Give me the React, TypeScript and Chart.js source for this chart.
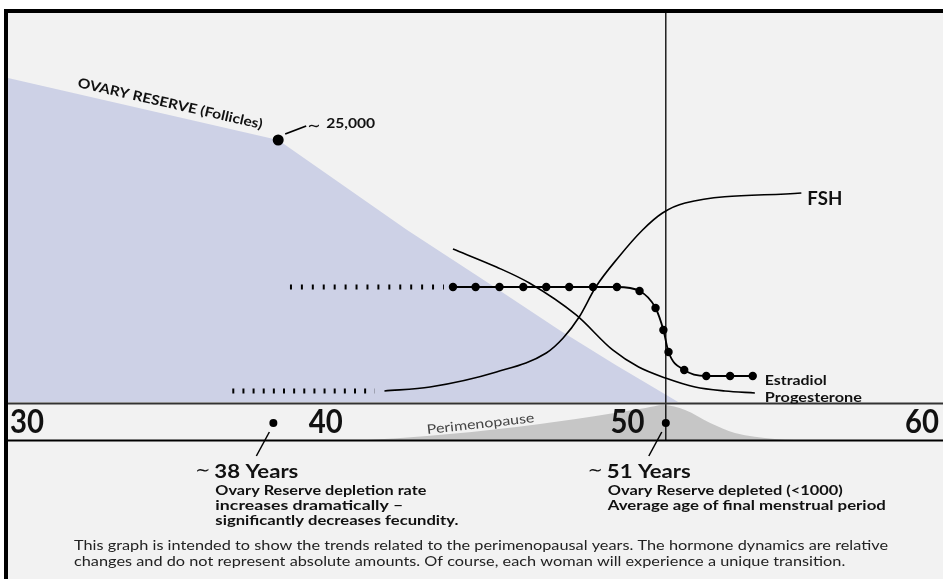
import { useEffect, useRef } from 'react';
import { Chart, registerables } from 'chart.js';

Chart.register(...registerables);

// ---- data (age in years, relative level 0..100; band below 0) ----
const ovaryAges = [29.21, 38.16, 42.43, 45.07, 47.47, 49.34, 51.41];
const ovaryValues = [83.3, 67.35, 44.2, 30.85, 18.5, 9.5, 0];
const reserveDotAges = [38.16];
const reserveDotValues = [67.35];

const estradiolAges = [43.95, 44.7, 45.49, 46.28, 47.04, 47.8, 48.59, 49.38, 50.13, 50.66, 50.92, 51.09, 51.61, 52.34, 53.13, 53.88];
const estradiolValues = [29.56, 29.56, 29.56, 29.56, 29.56, 29.56, 29.56, 29.56, 28.53, 24.16, 18.51, 12.85, 8.23, 6.68, 6.68, 6.68];
const estradiolTrendAges = [38.55, 43.65];
const estradiolTrendValues = [29.56, 29.56];

const progesteroneAges = [43.95, 45.39, 46.48, 48.03, 49.24, 50.1, 50.99, 51.97, 52.96, 53.95];
const progesteroneValues = [39.33, 34.7, 30.59, 22.37, 13.37, 8.99, 6.17, 3.86, 2.83, 2.31];

const fshAges = [41.68, 43.19, 45.39, 47.04, 47.6, 48.13, 48.68, 49.44, 50.23, 50.89, 51.64, 55.49];
const fshValues = [2.83, 3.86, 7.71, 12.6, 16.45, 21.85, 29.56, 37.28, 44.22, 48.59, 51.16, 53.73];
const fshTrendAges = [36.64, 41.35];
const fshTrendValues = [2.83, 2.83];

const periAges = [41.12, 43.09, 46.05, 48.68, 50.33, 50.92, 51.64, 52.47, 53.29, 54.61, 55.26];
const periValues = [-9.77, -8.74, -6.43, -3.6, -1.54, -0.77, -2.06, -5.4, -7.97, -9.51, -9.77];

const menopauseAge = 51;
const milestoneAges = [38, 51];
const milestoneLevel = -5.4;

const tickValues = [30, 40, 50, 60];
const tickLabels = ['30', '40', '50', '60'];

const yMin = -9.77;
const yMax = 100;

const seriesLabels = { fsh: 'FSH', estradiol: 'Estradiol', progesterone: 'Progesterone' };
const reserveLabel = 'OVARY RESERVE (Follicles)';
const reserveCount = '25,000';
const periLabel = 'Perimenopause';
const milestoneTitles = ['38 Years', '51 Years'];
const milestoneNotes = [
  ['Ovary Reserve depletion rate', 'increases dramatically \u2013', 'significantly decreases fecundity.'],
  ['Ovary Reserve depleted (<1000)', 'Average age of final menstrual period'],
];
const footerLines = [
  'This graph is intended to show the trends related to the perimenopausal years. The hormone dynamics are relative',
  'changes and do not represent absolute amounts. Of course, each woman will experience a unique transition.',
];

const zip = (xs: number[], ys: number[]) => xs.map((x, i) => ({ x, y: ys[i] }));

const FONT = 'Lato, "DejaVu Sans", sans-serif';

function fitText(
  ctx: CanvasRenderingContext2D,
  text: string,
  x: number,
  y: number,
  width: number,
  weight: string,
  size: number,
  color = '#111',
) {
  ctx.save();
  ctx.font = `${weight} ${size}px ${FONT}`;
  const w = ctx.measureText(text).width;
  ctx.translate(x, y);
  ctx.scale(width / w, 1);
  ctx.fillStyle = color;
  ctx.textAlign = 'left';
  ctx.fillText(text, 0, 0);
  ctx.restore();
}

const decor = {
  id: 'decor',
  beforeDraw(chart: any) {
    const { ctx, chartArea: a } = chart;
    ctx.save();
    ctx.fillStyle = '#ffffff';
    ctx.fillRect(0, 0, chart.width, chart.height);
    ctx.fillStyle = '#f2f2f2';
    ctx.fillRect(a.left, a.top, chart.width - a.left, chart.height - a.top);
    ctx.restore();
  },
  afterDatasetsDraw(chart: any) {
    const { ctx, chartArea: a } = chart;
    const xs = chart.scales.x;
    const ys = chart.scales.y;
    const px = (v: number) => xs.getPixelForValue(v);
    const py = (v: number) => ys.getPixelForValue(v);
    ctx.save();

    // band separator lines
    const bandTop = py(0) + 1.5;
    ctx.strokeStyle = '#333';
    ctx.lineWidth = 2;
    ctx.beginPath();
    ctx.moveTo(a.left, bandTop);
    ctx.lineTo(chart.width, bandTop);
    ctx.stroke();
    ctx.strokeStyle = '#000';
    ctx.beginPath();
    ctx.moveTo(a.left, a.bottom + 0.5);
    ctx.lineTo(chart.width, a.bottom + 0.5);
    ctx.stroke();

    // frame
    ctx.fillStyle = '#000';
    ctx.fillRect(a.left - 4, a.top - 4, 4, chart.height);
    ctx.fillRect(a.left - 4, a.top - 4, chart.width, 4);

    // tick labels in band
    ctx.fillStyle = '#111';
    ctx.textBaseline = 'alphabetic';
    const tickY = a.bottom - 7;
    tickValues.forEach((v, i) => {
      let cx = px(v) - 8;
      if (i === 0) cx = a.left + 19;
      if (i === tickValues.length - 1) cx = chart.width - 21;
      ctx.save();
      ctx.font = `bold 32px ${FONT}`;
      const w = ctx.measureText(tickLabels[i]).width;
      ctx.translate(cx, tickY);
      ctx.scale(34 / w, 1);
      ctx.textAlign = 'center';
      ctx.fillText(tickLabels[i], 0, 0);
      ctx.restore();
    });

    // Perimenopause label
    ctx.save();
    ctx.translate(px(43.1), a.bottom - 6);
    ctx.rotate((-6.3 * Math.PI) / 180);
    fitText(ctx, periLabel, 0, 0, 108, 'normal', 13, '#444');
    ctx.restore();

    // Ovary reserve label (rotated along the slope)
    ctx.save();
    ctx.translate(77, 87);
    ctx.rotate((12.8 * Math.PI) / 180);
    fitText(ctx, reserveLabel, 0, 0, 189, 'bold', 13.5, '#111');
    ctx.restore();

    // ~25,000 leader
    const rdx = px(reserveDotAges[0]);
    const rdy = py(reserveDotValues[0]);
    ctx.strokeStyle = '#000';
    ctx.lineWidth = 1.8;
    ctx.beginPath();
    ctx.moveTo(rdx + 7, rdy - 6);
    ctx.lineTo(rdx + 28, rdy - 14);
    ctx.stroke();
    ctx.fillStyle = '#111';
    ctx.font = `16px "DejaVu Sans", sans-serif`;
    ctx.textAlign = 'left';
    ctx.fillText('\u223C', rdx + 29, rdy - 9);
    fitText(ctx, reserveCount, rdx + 48, rdy - 12, 49, 'bold', 13);

    // series labels
    ctx.textBaseline = 'middle';
    const fl = fshAges.length - 1;
    fitText(ctx, seriesLabels.fsh, px(fshAges[fl]) + 6, py(fshValues[fl]) + 6.5, 35, 'bold', 18);
    const el = estradiolAges.length - 1;
    fitText(ctx, seriesLabels.estradiol, px(estradiolAges[el]) + 12, py(estradiolValues[el]) + 5, 62, 'bold', 13.5);
    const pl = progesteroneAges.length - 1;
    fitText(ctx, seriesLabels.progesterone, px(progesteroneAges[pl]) + 10, py(progesteroneValues[pl]) + 5, 97, 'bold', 13.5);
    ctx.textBaseline = 'alphabetic';

    // milestone annotations
    const noteWidths = [
      [211, 188, 243],
      [235, 278],
    ];
    milestoneAges.forEach((age, i) => {
      const dx = px(age);
      const dy = py(milestoneLevel);
      ctx.strokeStyle = '#000';
      ctx.lineWidth = 1.5;
      ctx.beginPath();
      ctx.moveTo(dx - 4, dy + 9);
      ctx.lineTo(dx - 17, dy + 33);
      ctx.stroke();
      ctx.fillStyle = '#111';
      ctx.font = `18px "DejaVu Sans", sans-serif`;
      ctx.textAlign = 'left';
      ctx.fillText('\u223C', dx - 78, dy + 53);
      fitText(ctx, milestoneTitles[i], dx - 59, dy + 55, 84, 'bold', 18.5);
      milestoneNotes[i].forEach((line, j) => {
        fitText(ctx, line, dx - 58, dy + 72 + j * 15, noteWidths[i][j], 'bold', 12.5);
      });
    });

    // footer
    ctx.save();
    ctx.font = `normal 13px ${FONT}`;
    const w1 = ctx.measureText(footerLines[0]).width;
    const sx = 814 / w1;
    footerLines.forEach((line, j) => {
      ctx.save();
      ctx.translate(74, 550 + j * 16);
      ctx.scale(sx, 1);
      ctx.fillStyle = '#222';
      ctx.font = `normal 13px ${FONT}`;
      ctx.fillText(line, 0, 0);
      ctx.restore();
    });
    ctx.restore();

    ctx.restore();
  },
};

export default function App() {
  const ref = useRef<HTMLCanvasElement>(null);
  useEffect(() => {
    document.body.style.margin = '0';
    const canvas = ref.current!;
    const chart = new Chart(canvas, {
      type: 'line',
      data: {
        datasets: [
          {
            label: 'Ovary reserve',
            data: zip(ovaryAges, ovaryValues),
            borderWidth: 0,
            borderColor: 'rgba(0,0,0,0)',
            backgroundColor: '#cdd1e6',
            fill: 'origin',
            pointRadius: 0,
            tension: 0,
            order: 20,
          },
          {
            label: 'Perimenopause',
            data: zip(periAges, periValues),
            borderWidth: 0,
            borderColor: 'rgba(0,0,0,0)',
            backgroundColor: '#c6c6c6',
            fill: 'start',
            pointRadius: 0,
            cubicInterpolationMode: 'monotone',
            order: 19,
          },
          {
            label: 'Menopause',
            data: [
              { x: menopauseAge, y: yMin },
              { x: menopauseAge, y: yMax },
            ],
            borderColor: '#000',
            borderWidth: 1.3,
            pointRadius: 0,
            tension: 0,
            fill: false,
            order: 5,
          },
          {
            label: 'Progesterone',
            data: zip(progesteroneAges, progesteroneValues),
            borderColor: '#000',
            borderWidth: 1.6,
            pointRadius: 0,
            cubicInterpolationMode: 'monotone',
            fill: false,
            order: 3,
          },
          {
            label: 'FSH',
            data: zip(fshAges, fshValues),
            borderColor: '#000',
            borderWidth: 1.6,
            pointRadius: 0,
            cubicInterpolationMode: 'monotone',
            fill: false,
            order: 3,
          },
          {
            label: 'FSH trend',
            data: zip(fshTrendAges, fshTrendValues),
            borderColor: '#000',
            borderWidth: 5,
            borderDash: [2, 8.14],
            borderCapStyle: 'butt',
            pointRadius: 0,
            fill: false,
            order: 3,
          },
          {
            label: 'Estradiol',
            data: zip(estradiolAges, estradiolValues),
            borderColor: '#000',
            borderWidth: 1.8,
            pointRadius: 4.2,
            pointBackgroundColor: '#000',
            pointBorderWidth: 0,
            cubicInterpolationMode: 'monotone',
            fill: false,
            order: 2,
          },
          {
            label: 'Estradiol trend',
            data: zip(estradiolTrendAges, estradiolTrendValues),
            borderColor: '#000',
            borderWidth: 5,
            borderDash: [2, 8.93],
            borderCapStyle: 'butt',
            pointRadius: 0,
            fill: false,
            order: 2,
          },
          {
            label: 'Reserve dot',
            data: zip(reserveDotAges, reserveDotValues),
            showLine: false,
            pointRadius: 5.5,
            pointBackgroundColor: '#000',
            pointBorderWidth: 0,
            order: 1,
          },
          {
            label: 'Milestones',
            data: milestoneAges.map((a) => ({ x: a, y: milestoneLevel })),
            showLine: false,
            pointRadius: 4,
            pointBackgroundColor: '#000',
            pointBorderWidth: 0,
            order: 1,
          },
        ],
      },
      options: {
        animation: false,
        responsive: false,
        events: [],
        layout: { padding: { left: 8, top: 13, right: 0, bottom: 139 } },
        plugins: {
          legend: { display: false },
          tooltip: { enabled: false },
          title: { display: false },
        },
        scales: {
          x: { type: 'linear', min: 29.21, max: 60, display: false },
          y: { type: 'linear', min: yMin, max: yMax, display: false },
        },
      },
      plugins: [decor],
    } as any);
    return () => chart.destroy();
  }, []);
  return (
    <div style={{ width: 943, height: 579, position: 'relative', overflow: 'hidden' }}>
      <canvas ref={ref} width={943} height={579} style={{ display: 'block', width: 943, height: 579 }} />
    </div>
  );
}
